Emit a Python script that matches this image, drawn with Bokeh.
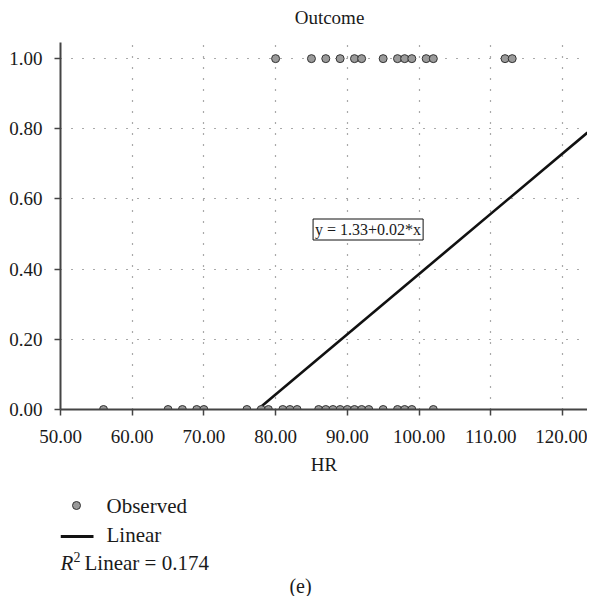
from bokeh.plotting import figure
from bokeh.models import Range1d, Label, FixedTicker, PrintfTickFormatter
from bokeh.layouts import column
from bokeh.embed import file_html
from bokeh.resources import INLINE

# ---- data ----
hr_outcome1 = [80, 85, 87, 89, 91, 92, 95, 97, 98, 99, 101, 102, 112, 113]
hr_outcome0 = [56, 65, 67, 69, 70, 76, 78, 79, 81, 82, 83, 86, 87, 88, 89, 90,
               91, 92, 93, 95, 97, 98, 99, 102]
fit_intercept = -1.33
fit_slope = 0.01716
r2_linear = 0.174
x_ticks = [50, 60, 70, 80, 90, 100, 110, 120]
y_ticks = [0.0, 0.2, 0.4, 0.6, 0.8, 1.0]
x_lo, x_hi = 50, 123.5
y_lo, y_hi = 0.0, 1.046

FONT = "Liberation Serif"
FS = "19px"
LFS = "21px"
TXT = "#1a1a1a"

hr = hr_outcome1 + hr_outcome0
outcome = [1] * len(hr_outcome1) + [0] * len(hr_outcome0)


def blank(h):
    f = figure(width=587, height=h, x_range=Range1d(60, 587), y_range=Range1d(h, 0),
               output_backend="svg", toolbar_location=None, x_axis_type=None,
               y_axis_type=None, min_border=0)
    f.outline_line_color = None
    f.xgrid.visible = False
    f.ygrid.visible = False
    return f


# ---- title strip ----
t = blank(42)
t.add_layout(Label(x=329, y=17, text="Outcome", text_font=FONT, text_font_size=FS,
                   text_color=TXT, text_align="center", text_baseline="middle"))

# ---- main plot ----
p = figure(width=587, height=438, x_range=Range1d(x_lo, x_hi), y_range=Range1d(y_lo, y_hi),
           output_backend="svg", toolbar_location=None,
           min_border_left=60, min_border_right=0, min_border_top=0, min_border_bottom=71)
p.outline_line_color = None
p.background_fill_color = "white"

for ax in (p.xaxis[0], p.yaxis[0]):
    ax.axis_line_color = "#444444"
    ax.axis_line_width = 2
    ax.major_tick_line_color = "#444444"
    ax.major_tick_line_width = 1.5
    ax.major_tick_out = 6
    ax.major_tick_in = 0
    ax.minor_tick_line_color = None
    ax.major_label_text_font = FONT
    ax.major_label_text_font_size = FS
    ax.major_label_text_color = TXT
    ax.axis_label_text_font = FONT
    ax.axis_label_text_font_size = FS
    ax.axis_label_text_font_style = "normal"
    ax.axis_label_text_color = TXT
    ax.formatter = PrintfTickFormatter(format="%.2f")

p.xaxis[0].ticker = FixedTicker(ticks=x_ticks)
p.yaxis[0].ticker = FixedTicker(ticks=y_ticks)
p.xaxis[0].axis_label = "HR"
p.xaxis[0].major_label_standoff = 14
p.xaxis[0].axis_label_standoff = 8
p.yaxis[0].major_label_standoff = 12

for g in (p.xgrid[0], p.ygrid[0]):
    g.grid_line_color = "#555555"
    g.grid_line_dash = "1 10"
    g.grid_line_width = 1.2

# fit line (clipped by frame)
lx = [x_lo, x_hi]
ly = [fit_intercept + fit_slope * v for v in lx]
p.line(lx, ly, line_color="#111111", line_width=2.6)

p.scatter(hr, outcome, size=8, fill_color="#9a9a9a", line_color="#333333", line_width=1)

p.add_layout(Label(x=92.9, y=0.513, text="y = 1.33+0.02*x", text_font=FONT,
                   text_font_size="16px", text_color=TXT, text_align="center",
                   text_baseline="middle", border_line_color="#111111", border_line_width=1,
                   background_fill_color="white", padding=2))

# ---- legend area ----
q = blank(116)
q.scatter([76], [25], size=8, fill_color="#9a9a9a", line_color="#333333", line_width=1)
q.line([60, 93], [56, 56], line_color="#111111", line_width=3)
q.add_layout(Label(x=106, y=25, text="Observed", text_font=FONT, text_font_size=LFS,
                   text_color=TXT, text_baseline="middle"))
q.add_layout(Label(x=106, y=54, text="Linear", text_font=FONT, text_font_size=LFS,
                   text_color=TXT, text_baseline="middle"))
q.add_layout(Label(x=60, y=82, text="R", text_font=FONT, text_font_size=LFS,
                   text_font_style="italic", text_color=TXT, text_baseline="middle"))
q.add_layout(Label(x=73, y=76, text="2", text_font=FONT, text_font_size="14px",
                   text_color=TXT, text_baseline="middle"))
q.add_layout(Label(x=84, y=82, text="Linear = %.3f" % r2_linear, text_font=FONT,
                   text_font_size=LFS, text_color=TXT, text_baseline="middle"))
q.add_layout(Label(x=300, y=105, text="(e)", text_font=FONT, text_font_size="20px",
                   text_color=TXT, text_align="center", text_baseline="middle"))

layout = column(t, p, q)
open("out.html", "w").write(file_html(layout, INLINE))
